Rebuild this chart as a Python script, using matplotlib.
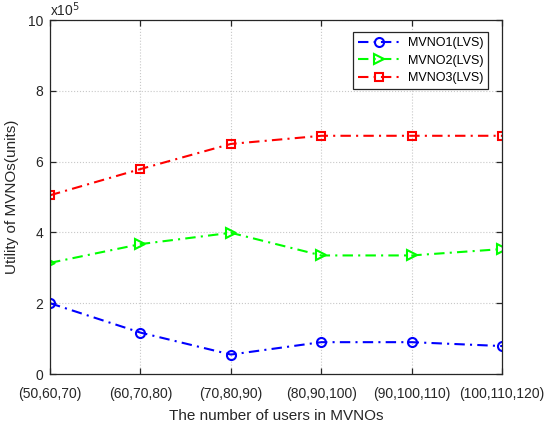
import matplotlib
matplotlib.use("Agg")
import matplotlib.pyplot as plt

# data (units of 1e5)
groups = ["(50,60,70)", "(60,70,80)", "(70,80,90)", "(80,90,100)",
          "(90,100,110)", "(100,110,120)"]
mvno1 = [2.00, 1.17, 0.55, 0.90, 0.90, 0.79]
mvno2 = [3.14, 3.67, 3.99, 3.35, 3.35, 3.53]
mvno3 = [5.05, 5.79, 6.50, 6.73, 6.73, 6.73]

plt.rcParams['font.family'] = ['Liberation Sans', 'DejaVu Sans']

fig = plt.figure(figsize=(5.44, 4.26), dpi=100)
ax = fig.add_axes([0.092, 0.122, 0.831, 0.831])

x = list(range(len(groups)))
dash = (5, 2.5, 1, 2.5)
ax.plot(x, mvno1, color='#0000ff', linestyle=(0, dash), marker='o', markersize=6.5,
        markerfacecolor='none', markeredgewidth=1.5, linewidth=1.5, label='MVNO1(LVS)')
ax.plot(x, mvno2, color='#00ff00', linestyle=(0, dash), marker='>', markersize=7.5,
        markerfacecolor='none', markeredgewidth=1.5, linewidth=1.5, label='MVNO2(LVS)')
ax.plot(x, mvno3, color='#ff0000', linestyle=(0, dash), marker='s', markersize=6,
        markerfacecolor='none', markeredgewidth=1.5, linewidth=1.5, label='MVNO3(LVS)')

ax.set_xlim(0, len(groups) - 1)
ax.set_ylim(0, 10)
ax.set_xticks(x)
ax.set_xticklabels(groups)
ax.set_yticks([0, 2, 4, 6, 8, 10])
ax.tick_params(labelsize=10, labelcolor='#262626')
ax.tick_params(direction='in', length=4, width=0.9, top=True, right=True,
               colors='#262626')
ax.tick_params(axis='x', pad=9)
ax.tick_params(axis='y', pad=5)
ax.grid(True, linestyle=':', color='#c8c8c8', linewidth=0.8)
for s in ax.spines.values():
    s.set_color('#262626')
    s.set_linewidth(0.9)

ax.set_xlabel("The number of users in MVNOs", fontsize=11, color='#262626', labelpad=6)
ax.set_ylabel("Utility of MVNOs(units)", fontsize=11, color='#262626', labelpad=6)
ax.text(0.0, 1.003, r"x10$^5$", transform=ax.transAxes, fontsize=10,
        color='#262626', ha='left', va='bottom')

leg = ax.legend(loc='upper right', bbox_to_anchor=(0.969, 0.966), borderaxespad=0,
                fontsize=9, fancybox=False, framealpha=1, edgecolor='#262626',
                handlelength=3.4, borderpad=0.4, labelspacing=0.45,
                handletextpad=0.6)
leg.get_frame().set_linewidth(0.9)

fig.savefig("out.png", dpi=100)
